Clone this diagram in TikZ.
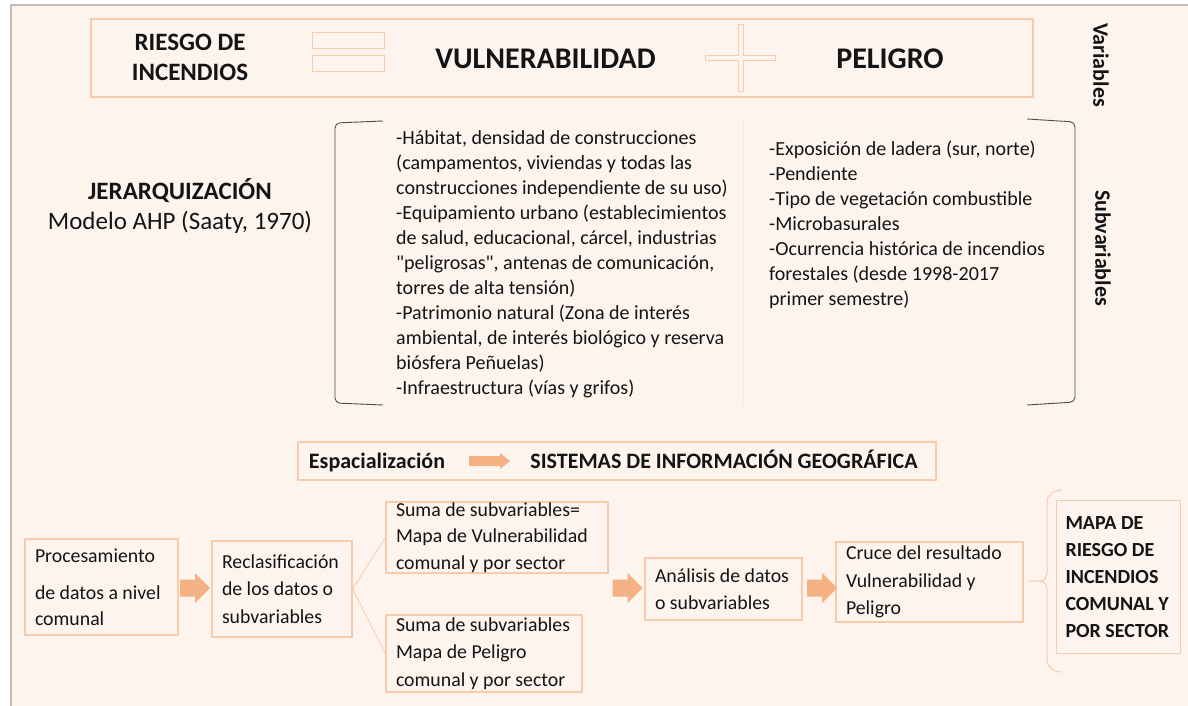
\documentclass[tikz,border=0pt]{standalone}
\usepackage{fontspec}
\setmainfont{Carlito}
\usetikzlibrary{arrows.meta,positioning,calc}
\definecolor{fondo}{HTML}{FDF4EE}
\definecolor{borde}{HTML}{F8CBAD}
\definecolor{naranja}{HTML}{F4B183}
\definecolor{marco}{HTML}{BDBDBD}
\definecolor{tinta}{HTML}{141414}
\hyphenpenalty=10000
\exhyphenpenalty=10000

\begin{document}
\begin{tikzpicture}[x=1pt,y=-1pt,
  step box/.style={draw=borde,fill=fondo,line width=1.2pt,inner xsep=10pt,inner ysep=0pt,
    align=left,text=tinta,font=\fontsize{19.8}{27.5}\selectfont,
    execute at begin node={\spaceskip=0pt\xspaceskip=0pt}},
  result box/.style={step box,inner xsep=9pt,font=\fontsize{20}{27.2}\selectfont\bfseries},
  frame box/.style={draw=borde,fill=fondo,line width=1.2pt},
  list text/.style={text=tinta,font=\fontsize{20}{25}\selectfont,inner sep=0pt,
    align=left,anchor=north west},
  bold text/.style={text=tinta,font=\fontsize{22}{26}\selectfont\bfseries,inner sep=0pt},
  big text/.style={text=tinta,font=\fontsize{30}{34}\selectfont\bfseries,inner sep=0pt},
  side text/.style={text=tinta,font=\fontsize{22}{26}\selectfont\bfseries,inner sep=0pt,rotate=-90},
  flecha/.pic={\fill[naranja] (0,-8.5) -- (15,-8.5) -- (15,-15) -- (30,0) -- (15,15)
    -- (15,8.5) -- (0,8.5) -- cycle;},
  flechita/.pic={\fill[naranja] (0,-5) -- (31,-5) -- (31,-8) -- (41,0) -- (31,8)
    -- (31,5) -- (0,5) -- cycle;},
  thin link/.style={draw=borde,line width=0.8pt},
  bracket/.style={draw=black!70,line width=0.9pt,rounded corners=5pt},
  sign/.style={draw=borde,fill=fondo,line width=1pt}]

  \useasboundingbox (0,0) rectangle (1188,706);

  % Page frame
  \fill[fondo] (12,6) rectangle (1188,706);
  \draw[marco,line width=2pt] (11,706) -- (11,5) -- (1188,5);

  % Variables
  \node[frame box,minimum width=942,minimum height=78] (vars) at (562,58) {};
  \node[bold text,align=center,font=\fontsize{25}{30}\selectfont\bfseries] (riesgo) at (190,57.5) {RIESGO DE\\INCENDIOS};
  \draw[sign] (312,33) rectangle (384,49);
  \draw[sign] (312,56) rectangle (384,72);
  \node[big text,anchor=base] (vulner) at (545.5,69) {VULNERABILIDAD};
  \draw[sign] (738,25) -- (743,25) -- (743,56) -- (775,56) -- (775,61) -- (743,61) -- (743,92)
    -- (738,92) -- (738,61) -- (705,61) -- (705,56) -- (738,56) -- cycle;
  \node[big text,anchor=base] (peligro) at (890,69) {PELIGRO};
  \node[side text] (variables) at (1101,65) {Variables};

  % Subvariables
  \node[bold text,font=\fontsize{25}{29}\selectfont\bfseries] (jerarq) at (180,191) {JERARQUIZACIÓN};
  \node[text=tinta,font=\fontsize{25}{29}\selectfont,inner sep=0pt] (ahp) at (180,222) {Modelo AHP (Saaty, 1970)};

  \draw[bracket] (383,121) -- (335,123) -- (335,403) -- (383,405);
  \node[list text] (listavul) at (396,130) {-Hábitat, densidad de construcciones\\
    (campamentos, viviendas y todas las\\
    construcciones independiente de su uso)\\
    -Equipamiento urbano (establecimientos\\
    de salud, educacional, cárcel, industrias\\
    \textquotedbl peligrosas\textquotedbl, antenas de comunicación,\\
    torres de alta tensión)\\
    -Patrimonio natural (Zona de interés\\
    ambiental, de interés biológico y reserva\\
    biósfera Peñuelas)\\
    -Infraestructura (vías y grifos)};
  \draw[borde!35!fondo,line width=1pt] (743,122) -- (743,405);
  \node[list text] (listapel) at (769,141) {-Exposición de ladera (sur, norte)\\
    -Pendiente\\
    -Tipo de vegetación combustible\\
    -Microbasurales\\
    -Ocurrencia histórica de incendios\\
    forestales (desde 1998-2017\\
    primer semestre)};
  \draw[bracket] (1027,119) -- (1075,122) -- (1075,402) -- (1027,405);
  \node[side text] (subvar) at (1103,248) {Subvariables};

  % Espacializacion
  \node[frame box,minimum width=638,minimum height=38] (espbox) at (617,461) {};
  \node[bold text,anchor=base] (espac) at (377,468.5) {Espacialización};
  \pic (espflecha) at (469,461) {flechita};
  \node[bold text,anchor=base] (sig) at (724,468.5) {SISTEMAS DE INFORMACIÓN GEOGRÁFICA};

  % Process chain
  \node[step box,minimum height=96,text width=133] (proc) at (101.5,587)
    {Procesamiento\\[9.5pt]de datos a nivel\\[-1.5pt]comunal};
  \node[step box,minimum height=96,text width=120] (recl) at (282,589)
    {Reclasificación\\de los datos o\\subvariables};
  \node[step box,minimum height=71,text width=202,font=\fontsize{19.8}{26.5}\selectfont] (sumavul) at (497,537.5)
    {Suma de subvariables=\\Mapa de Vulnerabilidad\\comunal y por sector};
  \node[step box,minimum height=77,text width=176] (sumapel) at (484,653.5)
    {Suma de subvariables\\Mapa de Peligro\\comunal y por sector};
  \node[step box,minimum height=62,text width=137] (anal) at (723.5,589)
    {Análisis de datos\\o subvariables};
  \node[step box,minimum height=80,text width=167] (cruce) at (929.5,582)
    {Cruce del resultado\\Vulnerabilidad y\\Peligro};
  \node[result box,minimum height=153,text width=106] (mapa) at (1118.5,577)
    {MAPA DE\\RIESGO DE\\INCENDIOS\\COMUNAL Y\\POR SECTOR};

  \pic (f1) at (180,588) {flecha};
  \pic (f2) at (612.5,588) {flecha};
  \pic (f3) at (807,588) {flecha};

  \draw[thin link] (recl.east) -- (sumavul.west);
  \draw[thin link] (recl.east) -- (sumapel.west);

  % Brace
  \coordinate (punta) at ($(cruce.east)+(5,-1)$);
  \draw[borde,line width=1pt] (1062,490) to[out=180,in=90] (1047,502) -- (1047,572)
    to[out=-90,in=0] (1040,581) -- (punta);
  \draw[borde,line width=1pt] (1040,581) to[out=0,in=90] (1047,590) -- (1047,660)
    to[out=-90,in=180] (1062,672);

\end{tikzpicture}
\end{document}
